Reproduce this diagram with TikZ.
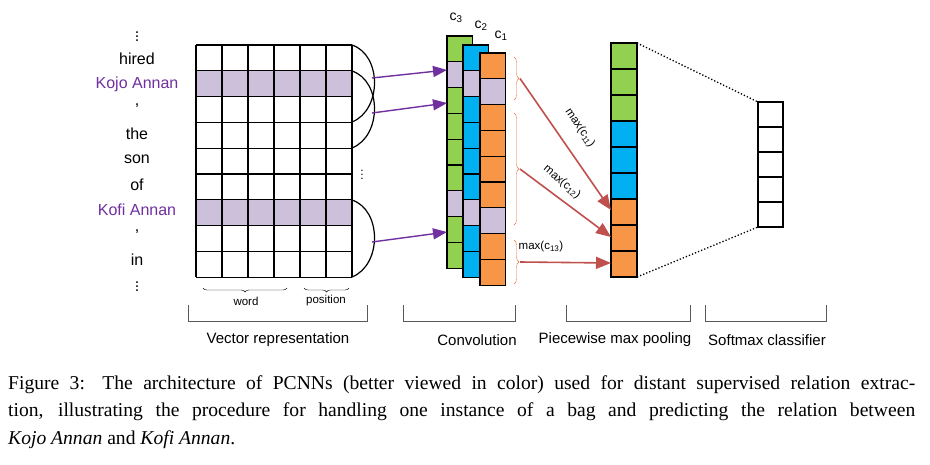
\documentclass[tikz,border=0pt]{standalone}
\usepackage{fontspec}
\setmainfont{Liberation Serif}
\newfontfamily\sff{Liberation Sans}
\usetikzlibrary{decorations.pathreplacing,arrows.meta}
\definecolor{lil}{RGB}{204,192,218}
\definecolor{grn}{RGB}{146,208,80}
\definecolor{blu}{RGB}{0,176,240}
\definecolor{org}{RGB}{247,150,70}
\definecolor{pur}{RGB}{112,48,160}
\definecolor{rd}{RGB}{192,80,77}
\definecolor{brc}{RGB}{230,110,60}
\begin{document}
\begin{tikzpicture}[x=1pt,y=-1pt,
  cell/.style={draw=black,line width=1.3pt},
  word/.style={font=\sff\fontsize{16}{16}\selectfont,anchor=center,inner sep=1pt},
  parr/.style={draw=pur,line width=1.4pt,-{Triangle[length=14pt,width=11pt]}},
  rarr/.style={draw=rd,line width=1.6pt,-{Triangle[length=15pt,width=12pt]}},
  rbrace/.style={draw=brc,decorate,decoration={brace,amplitude=5pt}},
  lbl/.style={font=\sff\fontsize{11.5}{11.5}\selectfont},
  bcap/.style={font=\sff\fontsize{15}{15}\selectfont}]
\fill[white] (0,0) rectangle (930,465);
\useasboundingbox (0,0) rectangle (930,465);
% words
\node[word] (d1) at (137,34) {$\vdots$};
\node[word] (w1) at (137,59) {hired};
\node[word,text=pur] (w2) at (137,84) {Kojo Annan};
\node[word] (w3) at (137,106) {,};
\node[word] (w4) at (137,134) {the};
\node[word] (w5) at (137,159) {son};
\node[word] (w6) at (137,185) {of};
\node[word,text=pur] (w7) at (137,210) {Kofi Annan};
\node[word] (w8) at (137,232) {,};
\node[word] (w9) at (137,260) {in};
\node[word] (d2) at (137,284) {$\vdots$};
% matrix
\foreach \r in {1,6}{\fill[lil] (196,{45+\r*25.8}) rectangle (352,{45+(\r+1)*25.8});}
\foreach \i in {0,...,6}{\draw[line width=1.3pt] ({196+\i*26},45) -- ({196+\i*26},277.2);}
\foreach \j in {0,...,9}{\draw[line width=1.3pt] (196,{45+\j*25.8}) -- (352,{45+\j*25.8});}
% arcs
\draw[line width=1.2pt] (352,45) .. controls (382,55) and (382,110) .. (352,122);
\draw[line width=1.2pt] (352,71) .. controls (382,81) and (382,136) .. (352,148);
\draw[line width=1.2pt] (352,200) .. controls (382,210) and (382,265) .. (352,277);
\node[font=\sff\fontsize{12}{12}\selectfont] (vd) at (362,172) {$\vdots$};
\coordinate (a1) at (372,78); \coordinate (a2) at (372,113); \coordinate (a3) at (372,242);
% conv columns
\foreach \x/\y/\c in {447/36/grn,463/45/blu,480/53/org}{
  \foreach \k in {0,...,8}{
    \pgfmathsetmacro{\yy}{\y+\k*25.8}
    \ifnum\k=1 \def\cc{lil}\else\ifnum\k=6 \def\cc{lil}\else\def\cc{\c}\fi\fi
    \filldraw[cell,fill=\cc] (\x,\yy) rectangle ++(25.5,25.8);
  }}
\coordinate (b1) at (447,70); \coordinate (b2) at (447,103); \coordinate (b3) at (447,232);
\draw[parr] (a1) -- (b1); \draw[parr] (a2) -- (b2); \draw[parr] (a3) -- (b3);
\node[font=\sff\fontsize{14}{14}\selectfont] (c3) at (456,18) {c\textsubscript{3}};
\node[font=\sff\fontsize{14}{14}\selectfont] (c2) at (481,26) {c\textsubscript{2}};
\node[font=\sff\fontsize{14}{14}\selectfont] (c1) at (501,36) {c\textsubscript{1}};
% braces
\draw[rbrace] (514,57) -- (514,100) coordinate[midway,xshift=6pt] (t1);
\draw[rbrace] (514,113) -- (514,225) coordinate[midway,xshift=6pt] (t2);
\draw[rbrace] (514,240) -- (514,284) coordinate[midway,xshift=6pt] (t3);
% pooling
\foreach \k/\c in {0/grn,1/grn,2/grn,3/blu,4/blu,5/blu,6/org,7/org,8/org}{
  \filldraw[cell,fill=\c] (611,{43+\k*26}) rectangle ++(26,26);}
\coordinate (p1) at (611,210); \coordinate (p2) at (611,237); \coordinate (p3) at (611,263);
\draw[rarr] (t1) -- (p1); \draw[rarr] (t2) -- (p2); \draw[rarr] (t3) -- (p3);
\node[lbl,rotate=-56] (m1) at (580,128) {max(c\textsubscript{11})};
\node[lbl,rotate=-40] (m2) at (562,182) {max(c\textsubscript{12})};
\node[lbl] (m3) at (541,247) {max(c\textsubscript{13})};
% softmax
\foreach \k in {0,...,4}{\draw[cell] (758,{102+\k*25}) rectangle ++(25,25);}
\draw[line width=1.3pt,dotted] (637,43) -- (758,102);
\draw[line width=1.3pt,dotted] (637,277) -- (758,227);
% bottom
\draw[thin,decorate,decoration={brace,amplitude=4pt,mirror}] (203,288) -- (287,288);
\draw[thin,decorate,decoration={brace,amplitude=4pt,mirror}] (304,288) -- (349,288);
\node[lbl] (lw) at (246,301) {word};
\node[lbl] (lp) at (326,301) {position};
\foreach \a/\b in {188/367,403/515,566/690,705/826}{
  \draw[line width=0.6pt,gray!70!black] (\a,305) -- (\a,321) -- (\b,321) -- (\b,305);}
\node[bcap] (L1) at (278,340) {Vector representation};
\node[bcap] (L2) at (477,340) {Convolution};
\node[bcap] (L3) at (615,340) {Piecewise max pooling};
\node[bcap] (L4) at (767,340) {Softmax classifier};
% caption
\node[anchor=north west,inner sep=0pt,text width=907pt,align=justify,font=\fontsize{19.6}{27.5}\selectfont] (capt) at (8,375)
{Figure 3: The architecture of PCNNs (better viewed in color) used for distant supervised relation extrac-\linebreak tion, illustrating the procedure for handling one instance of a bag and predicting the relation between\linebreak \textit{Kojo Annan} and \textit{Kofi Annan}.};
\end{tikzpicture}
\end{document}
